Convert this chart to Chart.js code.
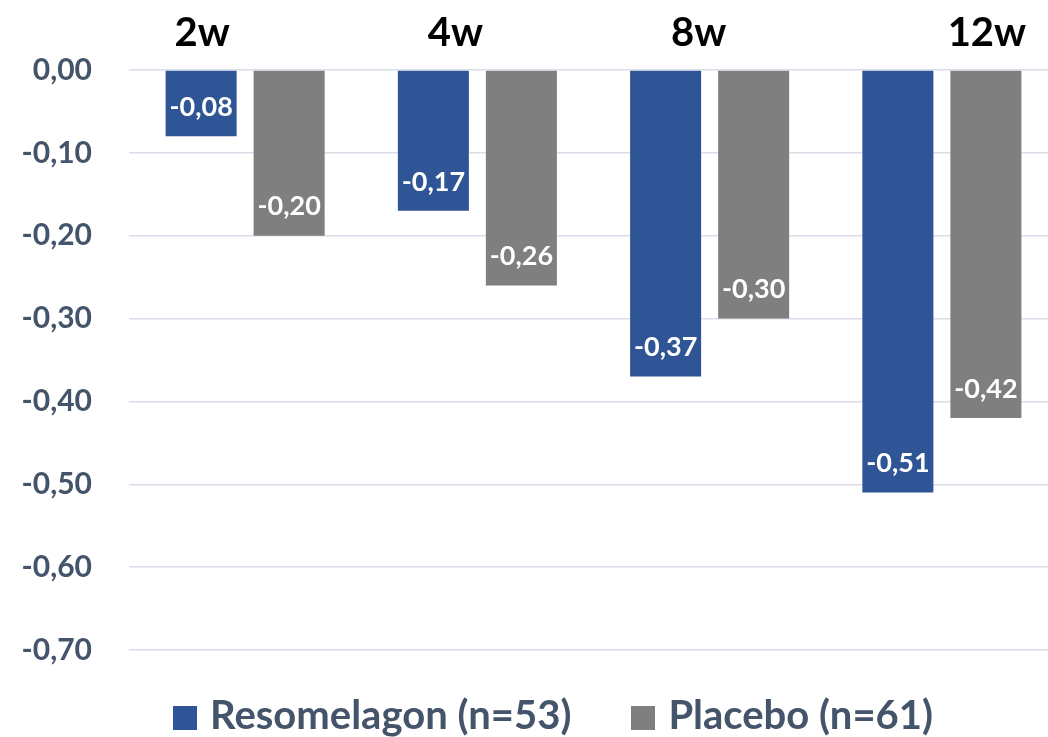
<!DOCTYPE html>
<html>
<head>
<meta charset="utf-8">
<script src="https://cdn.jsdelivr.net/npm/chart.js@4/dist/chart.umd.min.js"></script>
<style>
  html, body { margin: 0; padding: 0; background: #fff; overflow: hidden; }
  #wrap { position: relative; width: 1048px; height: 737px; overflow: hidden; }
  #chart_canvas { position: absolute; left: 0; top: 0; }
  #legend {
    position: absolute; left: 173px; top: 690px;
    font-family: Lato, "Open Sans", sans-serif; font-weight: bold; font-size: 40px;
    line-height: 48px; color: #44546A; white-space: nowrap;
  }
  .item { display: inline-block; margin-right: 60px; }
  .box { display: inline-block; width: 24px; height: 24px; margin-right: 13px; vertical-align: -1px; }
</style>
</head>
<body>
<div id="wrap">
  <canvas id="chart_canvas"></canvas>
  <div id="legend"></div>
</div>
<script>
const weeks = ["2w", "4w", "8w", "12w"];
const resomelagon = [-0.08, -0.17, -0.37, -0.51];
const placebo = [-0.20, -0.26, -0.30, -0.42];
const seriesNames = ["Resomelagon (n=53)", "Placebo (n=61)"];
const seriesColors = ["#2F5597", "#7F7F7F"];
const yTicks = [0, -0.1, -0.2, -0.3, -0.4, -0.5, -0.6, -0.7];

const fontName = "Lato, 'Open Sans', sans-serif";

function fmt(v)
{
  return v.toFixed(2).replace(".", ",");
}

// week labels sit a little off the group centres in the original
const labelShift = [-43, -22, -11, 45];

const topLabels = {
  id: "topLabels",
  afterDraw(chart)
  {
    const ctx = chart.ctx;
    const x = chart.scales.x;
    ctx.save();
    ctx.font = "bold 40px " + fontName;
    ctx.fillStyle = "#000";
    ctx.textAlign = "center";
    ctx.textBaseline = "alphabetic";
    weeks.forEach((w, i) => {
      ctx.fillText(w, x.getPixelForValue(i) + labelShift[i], 46);
    });
    ctx.restore();
  }
};

const barLabels = {
  id: "barLabels",
  afterDatasetsDraw(chart)
  {
    const ctx = chart.ctx;
    ctx.save();
    ctx.font = "bold 27px " + fontName;
    ctx.fillStyle = "#fff";
    ctx.textAlign = "center";
    ctx.textBaseline = "middle";
    chart.data.datasets.forEach((ds, di) => {
      chart.getDatasetMeta(di).data.forEach((bar, i) => {
        ctx.fillText(fmt(ds.data[i]), bar.x, bar.y - 29);
      });
    });
    ctx.restore();
  }
};

const canvas = document.getElementById("chart_canvas");
canvas.width = 1058;
canvas.height = 737;
canvas.style.width = "1058px";
canvas.style.height = "737px";

const config =
{
  type: "bar",
  data: {
    labels: weeks,
    datasets: [
      { label: seriesNames[0], data: resomelagon, backgroundColor: seriesColors[0] },
      { label: seriesNames[1], data: placebo, backgroundColor: seriesColors[1] }
    ]
  },
  options: {
    responsive: false,
    animation: false,
    layout: { padding: { left: 0, right: 0, top: 0, bottom: 87 } },
    datasets: { bar: { categoryPercentage: 0.758, barPercentage: 0.807 } },
    plugins: {
      legend: { display: false },
      tooltip: { enabled: false }
    },
    scales: {
      x: {
        position: "top",
        grid: { display: false },
        border: { display: false },
        ticks: { display: false },
        afterFit(scale) { scale.height = 70; }
      },
      y: {
        min: -0.7,
        max: 0,
        afterBuildTicks(scale) { scale.ticks = yTicks.map(v => ({ value: v })); },
        afterFit(scale) { scale.width = 129; },
        grid: { color: "#D9DEE8", lineWidth: 1.5, drawTicks: false },
        border: { display: false },
        ticks: {
          padding: 37,
          color: "#44546A",
          font: { family: fontName, weight: "bold", size: 30 },
          callback: v => fmt(v)
        }
      }
    }
  },
  plugins: [topLabels, barLabels]
};

new Chart(canvas, config);

document.getElementById("legend").innerHTML = seriesNames.map((n, i) =>
  '<span class="item"><span class="box" style="background:' + seriesColors[i] + '"></span>' + n + '</span>'
).join("");
</script>
</body>
</html>
